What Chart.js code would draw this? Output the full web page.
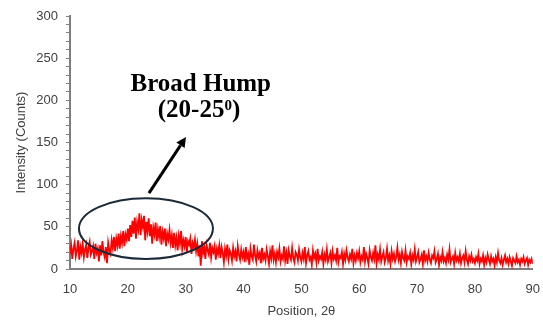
<!DOCTYPE html>
<html>
<head>
<meta charset="utf-8">
<script src="https://cdn.jsdelivr.net/npm/chart.js@4/dist/chart.umd.min.js"></script>
<style>
html,body{margin:0;padding:0;background:#fff;}
#wrap{width:543px;height:320px;position:relative;}
</style>
</head>
<body>
<div id="wrap"><canvas id="c" width="543" height="320"></canvas></div>
<script>
// Scan grid (2θ): start and step of the diffractometer scan
const scanStart = 10;
const scanStep = 0.2;

// Intensity (counts), 401 points from 10° to 90°
const intensity10to14 = [18,28,12,24,31,15,22,34,11,26,19,30,14,23,29,13,25,32,17,21];
const intensity14to17 = [27,12,30,19,24,9,28,16,33,20,14,26,7,31,22];
const intensity17to20 = [18,34,25,38,21,36,28,42,24,39,31,45,27,41,35];
const intensity20to24 = [48,33,52,38,57,42,61,36,55,47,66,40,58,50,63,34,56,45,60,39];
const intensity24to28 = [53,30,49,41,55,33,47,38,51,29,44,36,48,27,42,35,46,31,40,25];
const intensity28to32 = [43,28,37,22,39,30,45,24,34,27,38,20,33,29,36,18,31,26,35,21];
const intensity32to36 = [30,15,28,4,33,19,26,12,29,22,17,31,14,25,20,27,11,24,18,28];
const intensity36to40 = [13,26,19,8,24,16,29,12,22,18,10,25,15,21,9,27,17,11,23,14];
const intensity40to50 = [20,8,26,13,18,5,24,15,11,29,16,9,22,14,19,7,25,12,17,10,
  23,15,6,21,13,28,11,18,8,20,14,24,9,16,12,27,10,19,6,22,
  15,11,25,13,8,20,17,10,23,14];
const intensity50to60 = [9,19,12,26,7,16,21,11,14,5,22,13,18,8,24,10,15,12,20,6,
  17,11,23,9,14,19,7,21,12,16,10,25,8,15,13,20,6,18,11,22,
  14,9,17,12,24,7,16,10,19,13];
const intensity60to70 = [21,8,15,11,26,9,18,13,6,22,14,10,19,12,28,7,17,11,23,9,
  15,20,8,13,24,10,16,6,21,12,18,9,14,25,11,17,7,20,13,10,
  22,8,15,12,19,6,16,11,23,9];
const intensity70to80 = [14,20,8,12,17,6,22,10,15,9,19,11,7,16,13,21,8,12,18,5,
  14,10,20,9,13,7,17,11,23,8,12,15,6,19,10,14,9,18,7,13,
  16,8,21,11,6,15,10,17,9,12];
const intensity80to90 = [7,14,10,18,6,12,9,16,5,13,8,17,11,6,15,9,12,4,14,8,
  19,10,7,13,5,11,16,8,12,6,14,9,4,13,10,7,15,8,11,5,
  12,9,14,6,10,13,5,11,8,12,6];

const intensity = [].concat(intensity10to14, intensity14to17, intensity17to20,
  intensity20to24, intensity24to28, intensity28to32, intensity32to36, intensity36to40,
  intensity40to50, intensity50to60, intensity60to70, intensity70to80, intensity80to90);

// Axis ticks
const xTicks = [10,20,30,40,50,60,70,80,90];
const yTicks = [0,50,100,150,200,250,300];

// Annotation (in data units)
const humpCenter = {x: 23.13, y: 48};
const humpRadius = {x: 11.58, y: 36};
const arrowFrom = {x: 23.65, y: 90};
const arrowTo = {x: 30.05, y: 156.5};
const labelLine1 = {text: 'Broad Hump', x: 32.6, y: 211};
const labelLine2 = {text: '(20-25', sup: '0', close: ')', x: 32.3, y: 180};

const points = intensity.map((v, i) => ({x: +(scanStart + i * scanStep).toFixed(2), y: v}));

const annotationPlugin = {
  id: 'hump',
  afterDatasetsDraw(chart) {
    const {ctx, scales: {x, y}} = chart;
    ctx.save();
    // ellipse
    const cx = x.getPixelForValue(humpCenter.x), cy = y.getPixelForValue(humpCenter.y);
    const rx = x.getPixelForValue(humpCenter.x + humpRadius.x) - cx;
    const ry = cy - y.getPixelForValue(humpCenter.y + humpRadius.y);
    ctx.beginPath();
    ctx.ellipse(cx, cy, rx, ry, 0, 0, Math.PI * 2);
    ctx.strokeStyle = '#1b2a38';
    ctx.lineWidth = 2;
    ctx.stroke();
    // arrow
    const ax = x.getPixelForValue(arrowFrom.x), ay = y.getPixelForValue(arrowFrom.y);
    const bx = x.getPixelForValue(arrowTo.x), by = y.getPixelForValue(arrowTo.y);
    const ang = Math.atan2(by - ay, bx - ax);
    const hl = 10, hw = 5;
    const ex = bx - Math.cos(ang) * hl, ey = by - Math.sin(ang) * hl;
    ctx.beginPath();
    ctx.moveTo(ax, ay); ctx.lineTo(ex, ey);
    ctx.strokeStyle = '#000'; ctx.lineWidth = 3; ctx.stroke();
    ctx.beginPath();
    ctx.moveTo(bx, by);
    ctx.lineTo(ex + Math.sin(ang) * hw, ey - Math.cos(ang) * hw);
    ctx.lineTo(ex - Math.sin(ang) * hw, ey + Math.cos(ang) * hw);
    ctx.closePath(); ctx.fillStyle = '#000'; ctx.fill();
    // text
    const big = 'bold 25px "Liberation Serif", "Times New Roman", serif';
    const small = 'bold 15px "Liberation Serif", "Times New Roman", serif';
    ctx.fillStyle = '#000';
    ctx.textBaseline = 'alphabetic';
    ctx.textAlign = 'center';
    ctx.font = big;
    ctx.fillText(labelLine1.text, x.getPixelForValue(labelLine1.x), y.getPixelForValue(labelLine1.y));
    // second line with superscript
    ctx.font = big;
    const wA = ctx.measureText(labelLine2.text).width, wC = ctx.measureText(labelLine2.close).width;
    ctx.font = small; const wB = ctx.measureText(labelLine2.sup).width;
    const total = wA + wB + wC;
    let px = x.getPixelForValue(labelLine2.x) - total / 2;
    const py = y.getPixelForValue(labelLine2.y);
    ctx.textAlign = 'left';
    ctx.font = big; ctx.fillText(labelLine2.text, px, py); px += wA;
    ctx.font = small; ctx.fillText(labelLine2.sup, px, py - 7); px += wB;
    ctx.font = big; ctx.fillText(labelLine2.close, px, py);
    ctx.restore();
  }
};

const axisFont = {family: '"Liberation Sans", Arial, sans-serif', size: 13};

new Chart(document.getElementById('c'), {
  type: 'line',
  data: {
    datasets: [{
      data: points,
      borderColor: '#ff0000',
      borderWidth: 1.8,
      pointRadius: 0,
      tension: 0,
      fill: false
    }]
  },
  options: {
    responsive: false,
    animation: false,
    events: [],
    layout: {padding: {left: 0, right: 9, top: 16, bottom: 0}},
    plugins: {legend: {display: false}, tooltip: {enabled: false}},
    scales: {
      x: {
        type: 'linear',
        min: 10, max: 90,
        afterBuildTicks: s => { s.ticks = xTicks.map(v => ({value: v})); },
        afterFit: s => { s.height = 51; },
        grid: {display: true, drawOnChartArea: false, drawTicks: true, tickLength: 10, color: 'rgba(0,0,0,0)'},
        border: {display: true, color: '#7f7f7f', width: 2},
        ticks: {font: axisFont, color: '#404040', padding: 3, maxRotation: 0},
        title: {display: true, text: 'Position, 2θ', font: {family: axisFont.family, size: 13}, color: '#404040', padding: {top: 4, bottom: 1}}
      },
      y: {
        min: 0, max: 300,
        afterBuildTicks: s => { const t = []; for (let v = 0; v <= 300; v += 10) t.push({value: v}); s.ticks = t; },
        afterFit: s => { s.width = 70; },
        grid: {drawOnChartArea: false, drawTicks: true, tickLength: 4, color: '#7f7f7f'},
        border: {display: true, color: '#7f7f7f', width: 2},
        ticks: {font: axisFont, color: '#404040', padding: 8, autoSkip: false,
          callback: v => yTicks.includes(v) ? String(v) : ''},
        title: {display: true, text: 'Intensity (Counts)', font: {family: axisFont.family, size: 13}, color: '#404040', padding: {top: 14, bottom: 4}}
      }
    }
  },
  plugins: [annotationPlugin]
});
</script>
</body>
</html>
